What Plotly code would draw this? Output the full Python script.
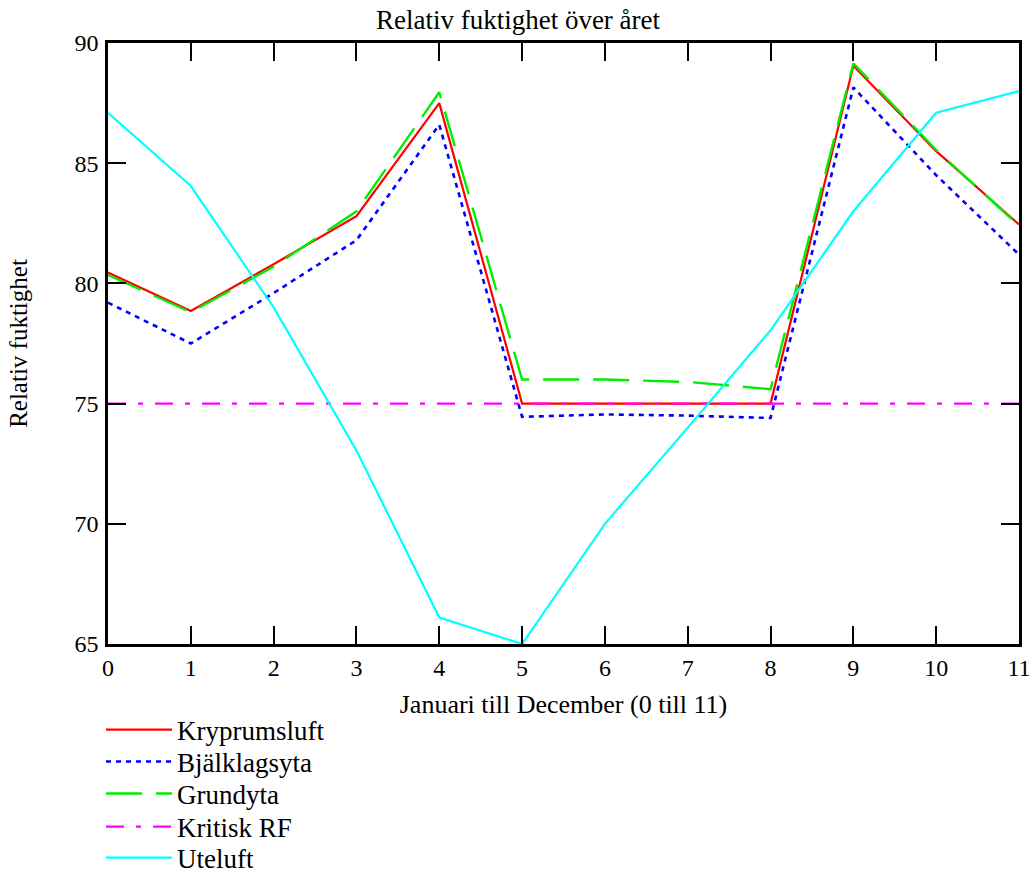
import plotly.graph_objects as go

months = list(range(12))
kryprumsluft = [80.45, 78.85, 80.8, 82.8, 87.5, 75.0, 75.0, 75.0, 75.0, 89.05, 85.5, 82.45]
bjalklagsyta = [79.2, 77.5, 79.6, 81.8, 86.6, 74.45, 74.55, 74.5, 74.4, 88.15, 84.5, 81.2]
grundyta = [80.35, 78.8, 80.7, 83.0, 87.95, 76.0, 76.0, 75.9, 75.6, 89.15, 85.55, 82.4]
kritisk_rf = [75.0] * 12
uteluft = [87.1, 84.05, 79.0, 73.05, 66.1, 65.0, 70.0, 74.0, 78.05, 83.0, 87.1, 88.0]

FONT = "Liberation Serif, Times New Roman, serif"

PLOT_TOP, PLOT_BOTTOM = 43, 644
PLOT_H = PLOT_BOTTOM - PLOT_TOP
legend_rows_px = [730, 762, 794, 827, 858]

series = [
    ("Kryprumsluft", kryprumsluft, dict(color="#ff0000", width=2.2)),
    ("Bjälklagsyta", bjalklagsyta, dict(color="#0000ff", width=2.6, dash="5px,5px")),
    ("Grundyta", grundyta, dict(color="#00ee00", width=2.4, dash="36px,14px")),
    ("Kritisk RF", kritisk_rf, dict(color="#ff00ff", width=2.2, dash="18px,12px,5px,12px")),
    ("Uteluft", uteluft, dict(color="#00ffff", width=2.2)),
]

fig = go.Figure()
legend_layouts = {}
for i, (name, vals, line) in enumerate(series):
    key = "legend" if i == 0 else f"legend{i + 1}"
    fig.add_trace(go.Scatter(x=months, y=vals, mode="lines", name=name, line=line,
                             legend=key))
    legend_layouts[key] = dict(
        x=-7 / 911, xanchor="left",
        y=(PLOT_BOTTOM - legend_rows_px[i]) / PLOT_H, yanchor="middle",
        font=dict(family=FONT, size=27, color="black"),
        itemwidth=66, bgcolor="rgba(0,0,0,0)", borderwidth=0,
    )

axis_common = dict(
    showgrid=False, zeroline=False, showline=True, linecolor="black", linewidth=2.5,
    mirror="ticks", ticks="inside", ticklen=18, tickwidth=2, tickcolor="black",
    tickfont=dict(family=FONT, size=24, color="black"),
)

fig.update_layout(
    width=1036, height=877,
    margin=dict(l=108, r=17, t=PLOT_TOP, b=877 - PLOT_BOTTOM, autoexpand=False),
    paper_bgcolor="white", plot_bgcolor="white",
    title=dict(text="Relativ fuktighet över året", x=0.5, xanchor="center",
               y=1 - 20 / 877, yanchor="middle",
               font=dict(family=FONT, size=27, color="black")),
    xaxis=dict(range=[0, 11], tickmode="array", tickvals=list(range(12)),
               title=dict(text="Januari till December (0 till 11)", standoff=16,
                          font=dict(family=FONT, size=26, color="black")),
               **axis_common),
    yaxis=dict(range=[65, 90], tickmode="array", tickvals=[65, 70, 75, 80, 85, 90],
               ticklabelstandoff=2,
               title=dict(text="Relativ fuktighet", standoff=40,
                          font=dict(family=FONT, size=25, color="black")),
               **axis_common),
    showlegend=True,
    **legend_layouts,
)

fig.write_html("out.html")
